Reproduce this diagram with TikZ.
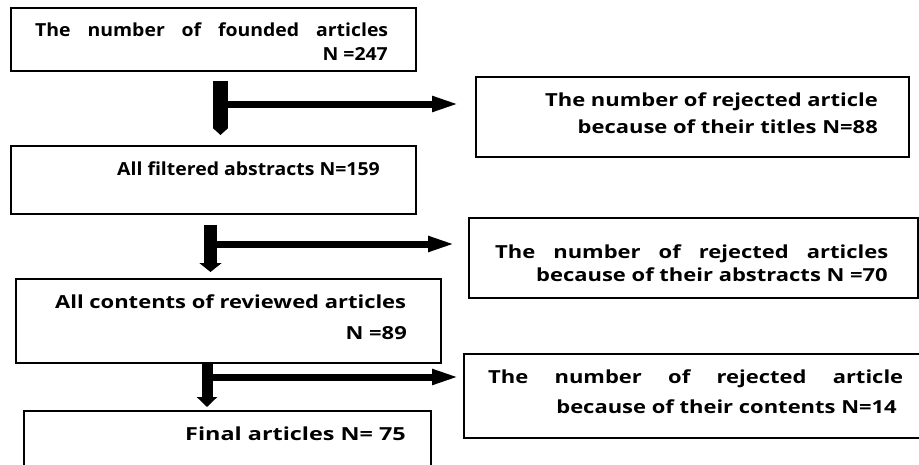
\documentclass[tikz,border=0pt]{standalone}
\usepackage{fontspec}
\setmainfont{Open Sans}
\newfontfamily\leftfont{Open Sans}[BoldFeatures={FakeStretch=1.08}]
\newfontfamily\rightfont{Open Sans}[BoldFeatures={FakeStretch=1.22}]
\newfontfamily\widefont{Open Sans}[BoldFeatures={FakeStretch=1.30}]
\usetikzlibrary{arrows.meta}
\tikzset{
  box/.style={draw=black, line width=1.6pt, fill=white, anchor=north west, inner sep=0pt},
  llbl/.style={inner sep=0pt, font=\fontsize{18}{22}\leftfont\bfseries},
  rlbl/.style={inner sep=0pt, font=\fontsize{18}{22}\rightfont\bfseries},
  wlbl/.style={inner sep=0pt, font=\fontsize{18}{22}\widefont\bfseries},
  downbar/.style={line width=#1, draw=black},
  sidearrow/.style={line width=7pt, draw=black, -{Triangle[width=14pt,length=28pt]}},
}
\begin{document}
\begin{tikzpicture}[x=1pt,y=-1pt]
\useasboundingbox (0,0) rectangle (919,464);
% boxes
\node[box, minimum width=405pt, minimum height=63pt] (b1) at (10,7) {};
\node[box, minimum width=433pt, minimum height=80pt] (b2) at (475,76) {};
\node[box, minimum width=405pt, minimum height=68pt] (b3) at (10,145) {};
\node[box, minimum width=449pt, minimum height=80pt] (b4) at (468,217) {};
\node[box, minimum width=425pt, minimum height=84pt] (b5) at (15,278) {};
\node[box, minimum width=470pt, minimum height=84pt] (b6) at (463,353) {};
\node[box, minimum width=407pt, minimum height=70pt] (b7) at (23,410) {};
% texts
\node[llbl, anchor=base west] (t1a) at (35,36) {\makebox[353pt][s]{The number of founded articles}};
\node[llbl, anchor=base east] (t1b) at (388,60) {N =247};
\node[rlbl, anchor=base east] (t2a) at (878,106) {The number of rejected article};
\node[rlbl, anchor=base east] (t2b) at (878,133) {because of their titles N=88};
\node[llbl, anchor=base west] (t3) at (117,175) {All filtered abstracts N=159};
\node[rlbl, anchor=base west] (t4a) at (495,258) {\makebox[393pt][s]{The number of rejected articles}};
\node[rlbl, anchor=base east] (t4b) at (888,281) {because of their abstracts N =70};
\node[rlbl, anchor=base west] (t5a) at (55,308) {All contents of reviewed articles};
\node[rlbl, anchor=base east] (t5b) at (407,339) {N =89};
\node[rlbl, anchor=base west] (t6a) at (488,383) {\makebox[415pt][s]{The number of rejected article}};
\node[rlbl, anchor=base east] (t6b) at (897,413) {because of their contents N=14};
\node[wlbl, anchor=base west] (t7) at (185,440) {Final articles N= 75};
% vertical flow arrows
\coordinate (v1) at (220.5,0);
\coordinate (v2) at (210.5,0);
\coordinate (v3) at (207,0);
\draw[downbar=15pt, -{Triangle[width=15pt,length=7pt]}, shorten <=9pt, shorten >=10pt]
  (v1 |- b1.south) -- (v1 |- b3.north);
\draw[downbar=13pt, -{Triangle[width=22pt,length=9pt]}, shorten <=10pt, shorten >=6pt]
  (v2 |- b3.south) -- (v2 |- b5.north);
\draw[downbar=11pt, -{Triangle[width=20pt,length=10pt]}, shorten <=0pt, shorten >=3pt]
  (v3 |- b5.south) -- (v3 |- b7.north);
% side arrows to rejected boxes
\coordinate (h1) at (220.5,104);
\coordinate (h2) at (210.5,244);
\coordinate (h3) at (207,377);
\draw[sidearrow, shorten >=15pt] (h1) -- (h1 -| b2.west);
\draw[sidearrow, shorten >=12pt] (h2) -- (h2 -| b4.west);
\draw[sidearrow, shorten >=3pt] (h3) -- (h3 -| b6.west);
\end{tikzpicture}
\end{document}
